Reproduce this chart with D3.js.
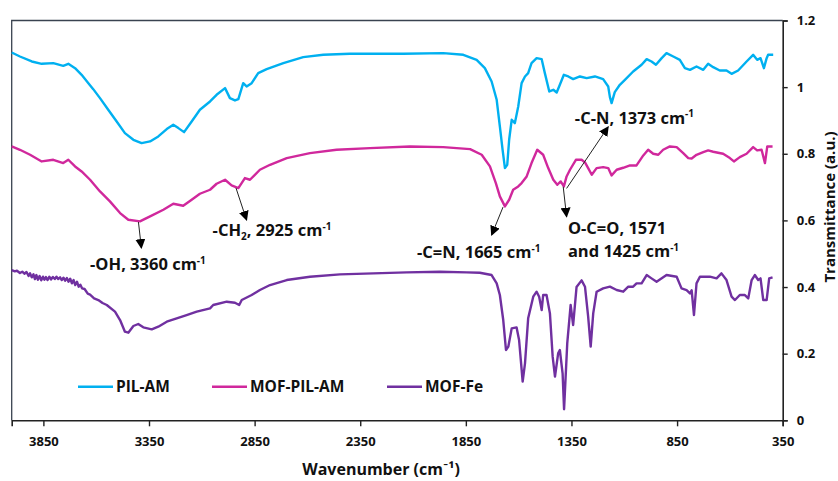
<!DOCTYPE html>
<html>
<head>
<meta charset="utf-8">
<script src="https://cdn.jsdelivr.net/npm/d3@7"></script>
<style>
  html, body { margin: 0; padding: 0; background: #ffffff; }
  svg { display: block; font-family: "Open Sans", Lato, sans-serif; font-weight: 700; }
</style>
</head>
<body>
<svg id="chart" width="838" height="481"></svg>
<script>
// FTIR spectra: [wavenumber (cm-1), transmittance (a.u.)]
const pilAm = [
  [4000,1.104],[3961,1.092],[3905,1.077],[3858,1.070],[3803,1.072],[3756,1.064],[3732,1.070],
  [3700,1.057],[3669,1.037],[3637,1.012],[3614,0.994],[3582,0.967],[3543,0.932],[3503,0.897],
  [3464,0.862],[3424,0.842],[3385,0.832],[3345,0.837],[3306,0.852],[3266,0.874],[3235,0.887],
  [3211,0.877],[3184,0.865],[3148,0.897],[3109,0.932],[3061,0.957],[3030,0.977],[2990,0.997],
  [2967,0.967],[2943,0.960],[2927,0.964],[2904,1.012],[2888,1.002],[2864,1.012],[2833,1.042],
  [2793,1.054],[2714,1.072],[2620,1.090],[2525,1.097],[2399,1.100],[2272,1.100],[2146,1.100],
  [1957,1.102],[1862,1.097],[1799,1.082],[1760,1.057],[1728,1.017],[1704,0.962],[1689,0.882],
  [1676,0.812],[1665,0.757],[1654,0.767],[1645,0.842],[1633,0.902],[1618,0.892],[1602,0.942],
  [1586,1.012],[1570,1.032],[1555,1.042],[1539,1.072],[1515,1.087],[1491,1.084],[1476,1.042],
  [1455,0.987],[1436,0.992],[1420,0.984],[1405,1.007],[1386,1.037],[1365,1.032],[1342,1.024],
  [1310,1.032],[1278,1.027],[1239,1.032],[1200,1.024],[1176,1.002],[1168,0.970],[1160,0.952],
  [1145,0.985],[1121,1.007],[1097,1.022],[1058,1.047],[1018,1.067],[994,1.084],[971,1.077],
  [950,1.067],[923,1.087],[900,1.102],[868,1.092],[837,1.082],[813,1.057],[789,1.052],
  [758,1.062],[726,1.052],[703,1.070],[679,1.060],[648,1.050],[616,1.050],[592,1.040],
  [561,1.050],[521,1.077],[490,1.097],[471,1.082],[455,1.087],[439,1.057],[426,1.087],
  [419,1.097],[395,1.097]
];

const mofPilAm = [
  [4000,0.822],[3961,0.812],[3913,0.797],[3858,0.777],[3803,0.782],[3756,0.772],[3732,0.782],
  [3700,0.762],[3669,0.747],[3629,0.722],[3582,0.687],[3535,0.657],[3487,0.622],[3448,0.602],
  [3393,0.597],[3345,0.612],[3282,0.632],[3235,0.650],[3188,0.644],[3148,0.662],[3109,0.680],
  [3061,0.692],[3030,0.710],[2990,0.722],[2959,0.705],[2927,0.697],[2896,0.727],[2872,0.722],
  [2825,0.752],[2777,0.767],[2698,0.787],[2588,0.802],[2462,0.812],[2304,0.817],[2115,0.822],
  [1957,0.820],[1830,0.814],[1775,0.797],[1736,0.762],[1708,0.712],[1689,0.672],[1665,0.642],
  [1645,0.662],[1626,0.692],[1602,0.702],[1586,0.712],[1562,0.732],[1539,0.772],[1512,0.812],
  [1484,0.797],[1460,0.757],[1436,0.722],[1417,0.707],[1401,0.717],[1386,0.702],[1373,0.732],
  [1357,0.752],[1329,0.782],[1302,0.782],[1286,0.774],[1271,0.757],[1254,0.737],[1231,0.757],
  [1200,0.760],[1176,0.757],[1160,0.735],[1136,0.752],[1105,0.758],[1073,0.765],[1042,0.765],
  [1010,0.795],[987,0.812],[963,0.800],[939,0.797],[916,0.812],[884,0.822],[852,0.820],
  [821,0.802],[797,0.787],[781,0.786],[758,0.797],[726,0.805],[703,0.810],[679,0.806],
  [656,0.803],[632,0.800],[600,0.787],[581,0.777],[553,0.790],[521,0.800],[490,0.820],
  [471,0.810],[450,0.812],[434,0.772],[423,0.822],[398,0.822]
];

const mofFe = [
  [4000,0.451],[3985,0.447],[3975,0.449],[3961,0.442],[3950,0.446],[3940,0.440],[3930,0.445],
  [3920,0.433],[3913,0.441],[3905,0.429],[3897,0.438],[3890,0.424],[3883,0.436],[3876,0.422],
  [3868,0.433],[3860,0.420],[3852,0.431],[3845,0.422],[3838,0.430],[3830,0.421],[3822,0.431],
  [3814,0.423],[3805,0.430],[3796,0.424],[3788,0.431],[3780,0.424],[3771,0.429],[3763,0.421],
  [3755,0.428],[3747,0.419],[3739,0.427],[3731,0.416],[3723,0.425],[3715,0.411],[3707,0.421],
  [3699,0.406],[3691,0.416],[3683,0.401],[3675,0.407],[3667,0.396],[3655,0.394],[3640,0.380],
  [3629,0.377],[3610,0.366],[3590,0.361],[3570,0.352],[3550,0.346],[3511,0.326],[3487,0.301],
  [3464,0.266],[3448,0.263],[3424,0.283],[3401,0.289],[3377,0.279],[3337,0.273],[3306,0.281],
  [3266,0.296],[3219,0.306],[3172,0.316],[3124,0.326],[3061,0.336],[3046,0.346],[2982,0.356],
  [2943,0.353],[2923,0.346],[2911,0.361],[2864,0.376],[2825,0.391],[2777,0.406],[2698,0.421],
  [2588,0.431],[2446,0.438],[2288,0.441],[2130,0.444],[1973,0.446],[1846,0.444],[1784,0.443],
  [1728,0.436],[1704,0.411],[1689,0.376],[1673,0.301],[1660,0.211],[1649,0.221],[1633,0.276],
  [1610,0.279],[1598,0.241],[1581,0.116],[1570,0.171],[1555,0.306],[1531,0.371],[1515,0.386],
  [1503,0.371],[1491,0.331],[1484,0.376],[1468,0.376],[1452,0.321],[1439,0.191],[1428,0.131],
  [1413,0.201],[1405,0.211],[1392,0.141],[1385,0.033],[1370,0.231],[1354,0.346],[1342,0.286],
  [1326,0.400],[1302,0.420],[1286,0.401],[1271,0.311],[1259,0.221],[1247,0.321],[1231,0.386],
  [1200,0.396],[1168,0.401],[1136,0.391],[1105,0.386],[1081,0.401],[1058,0.401],[1042,0.411],
  [1018,0.411],[994,0.436],[971,0.426],[947,0.416],[900,0.436],[852,0.431],[829,0.396],
  [805,0.391],[789,0.381],[781,0.390],[770,0.316],[758,0.411],[742,0.431],[695,0.431],
  [663,0.426],[640,0.441],[616,0.421],[592,0.371],[576,0.361],[553,0.376],[529,0.376],
  [513,0.366],[497,0.421],[482,0.436],[466,0.421],[455,0.426],[442,0.361],[426,0.361],
  [414,0.426],[398,0.429]
];

const seriesNames = ["PIL-AM", "MOF-PIL-AM", "MOF-Fe"];
const xTickValues = [3850, 3350, 2850, 2350, 1850, 1350, 850, 350];
const yTickValues = [0, 0.2, 0.4, 0.6, 0.8, 1, 1.2];

const colors = ["#00b0f0", "#d0289c", "#7030a0"];

const svg = d3.select("#chart");
const plot = { left: 11.7, right: 782.7, top: 20.5, bottom: 420.3 };

const x = d3.scaleLinear().domain([4000, 350]).range([plot.left, plot.right]);
const y = d3.scaleLinear().domain([0, 1.2]).range([plot.bottom, plot.top]);

// plot-area frame (left and top edges)
svg.append("path")
  .attr("d", `M${plot.left},${plot.bottom}V${plot.top}H${plot.right}`)
  .attr("fill", "none").attr("stroke", "#3a4350").attr("stroke-width", 1.3);

// bottom axis
const xAxis = svg.append("g")
  .attr("transform", `translate(0,${plot.bottom})`)
  .call(d3.axisBottom(x).tickValues(xTickValues).tickSize(6).tickPadding(10).tickFormat(d3.format("d")));
xAxis.select(".domain").attr("stroke", "#222").attr("stroke-width", 1.6);
xAxis.selectAll(".tick line").attr("stroke", "#222").attr("stroke-width", 1.4);
xAxis.selectAll(".tick text").attr("font-size", 13).attr("font-weight", 700)
  .attr("font-family", "'Open Sans', sans-serif").attr("fill", "#111");

// right axis
const yAxis = svg.append("g")
  .attr("transform", `translate(${plot.right},0)`)
  .call(d3.axisRight(y).tickValues(yTickValues).tickSize(5).tickPadding(9).tickFormat(d3.format("~g")));
yAxis.select(".domain").attr("stroke", "#222").attr("stroke-width", 1.6);
yAxis.selectAll(".tick line").attr("stroke", "#222").attr("stroke-width", 1.4);
yAxis.selectAll(".tick text").attr("font-size", 13).attr("font-weight", 700)
  .attr("font-family", "'Open Sans', sans-serif").attr("fill", "#111");

// spectra
const line = d3.line().x(d => x(d[0])).y(d => y(d[1])).curve(d3.curveLinear);
[pilAm, mofPilAm, mofFe].forEach((data, i) => {
  svg.append("path")
    .datum(data)
    .attr("d", line)
    .attr("fill", "none")
    .attr("stroke", colors[i])
    .attr("stroke-width", 2.4)
    .attr("stroke-linejoin", "round");
});

// axis titles
svg.append("text")
  .attr("x", 381).attr("y", 475)
  .attr("text-anchor", "middle").attr("font-size", 16).attr("fill", "#111")
  .text("Wavenumber (cm⁻¹)");

svg.append("text")
  .attr("transform", "translate(835,207) rotate(-90)")
  .attr("text-anchor", "middle").attr("font-size", 15).attr("fill", "#111")
  .text("Transmittance (a.u.)");

// legend
const legendX = [78, 212, 387];
seriesNames.forEach((name, i) => {
  const g = svg.append("g").attr("transform", `translate(${legendX[i]},386.7)`);
  g.append("line").attr("x1", 0).attr("x2", 35).attr("y1", 0).attr("y2", 0)
    .attr("stroke", colors[i]).attr("stroke-width", 2.6);
  g.append("text").attr("x", 38).attr("y", 5.5).attr("font-size", 15.5).attr("fill", "#111").text(name);
});

// band assignments: arrow tail / head and label anchor in data units
svg.append("defs").append("marker")
  .attr("id", "head").attr("viewBox", "0 0 10 10").attr("refX", 9).attr("refY", 5)
  .attr("markerWidth", 10).attr("markerHeight", 10).attr("markerUnits", "userSpaceOnUse")
  .attr("orient", "auto")
  .append("path").attr("d", "M0,0L10,5L0,10Z").attr("fill", "#000");

const arrows = [
  { from: [3400, 0.595], to: [3386, 0.517] },
  { from: [2938, 0.697], to: [2888, 0.601] },
  { from: [1674, 0.640], to: [1728, 0.556] },
  { from: [1389, 0.701], to: [1373, 0.611] },
  { from: [1373, 0.696], to: [1176, 0.881] }
];
arrows.forEach(a => {
  svg.append("line")
    .attr("x1", x(a.from[0])).attr("y1", y(a.from[1]))
    .attr("x2", x(a.to[0])).attr("y2", y(a.to[1]))
    .attr("stroke", "#222").attr("stroke-width", 1)
    .attr("marker-end", "url(#head)");
});

const labels = [
  { at: [3629, 0.451], parts: [["-OH, 3360 cm"], ["-1", "sup"]] },
  { at: [3049, 0.553], parts: [["-CH"], ["2", "sub"], [", 2925 cm"], ["-1", "sup"]] },
  { at: [2081, 0.487], parts: [["-C=N, 1665 cm"], ["-1", "sup"]] },
  { at: [1367, 0.559], parts: [["O-C=O, 1571"]] },
  { at: [1367, 0.490], parts: [["and 1425 cm"], ["-1", "sup"]] },
  { at: [1334, 0.890], parts: [["-C-N, 1373 cm"], ["-1", "sup"]] }
];
labels.forEach(l => {
  const t = svg.append("text")
    .attr("x", x(l.at[0])).attr("y", y(l.at[1]))
    .attr("font-size", 16.5).attr("fill", "#111");
  // superscripts / subscripts are shifted runs; each following run returns to the baseline
  let shift = 0;
  l.parts.forEach(p => {
    const span = t.append("tspan").text(p[0]);
    if (p[1] === "sup") { span.attr("font-size", 10).attr("dy", -6.5 - shift); shift = -6.5; }
    else if (p[1] === "sub") { span.attr("font-size", 10).attr("dy", 4 - shift); shift = 4; }
    else { span.attr("dy", -shift); shift = 0; }
  });
});
</script>
</body>
</html>
